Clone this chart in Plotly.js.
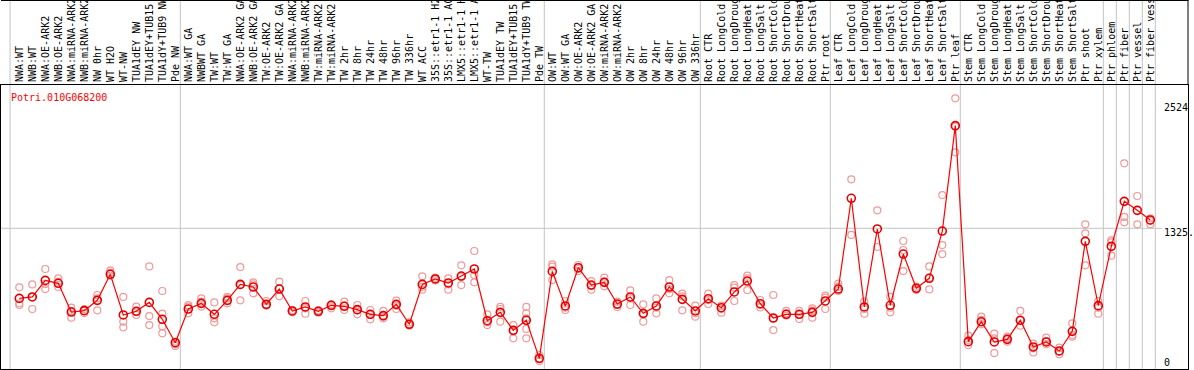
<!DOCTYPE html>
<html>
<head>
<meta charset="utf-8">
<script src="https://cdn.plot.ly/plotly-3.0.1.min.js"></script>
<style>
html,body{margin:0;padding:0;background:#fff;overflow:hidden;}
#chart{width:1194px;height:370px;}
</style>
</head>
<body>
<div id="chart"></div>
<script>
// ---- data ----
const geneId = "Potri.010G068200";

const samples = [
  "NWA:WT","NWB:WT","NWA:OE-ARK2","NWB:OE-ARK2","NWA:miRNA-ARK2","NWB:miRNA-ARK2","NW 0hr","WT H2O","WT-NW",
  "TUA1dEY NW","TUA1dEY+TUB15 NW","TUA1dY+TUB9 NW","Pde NW",
  "NWA:WT GA","NWBWT GA","TW:WT","TW:WT GA","NWA:OE-ARK2 GA","NWB:OE-ARK2 GA","TW:OE-ARK2","TW:OE-ARK2 GA",
  "NWA:miRNA-ARK2 GA","NWB:miRNA-ARK2 GA","TW:miRNA-ARK2","TW:miRNA-ARK2 GA","TW 2hr","TW 8hr","TW 24hr","TW 48hr",
  "TW 96hr","TW 336hr","WT ACC","35S::etr1-1 H2O","35S::etr1-1 ACC","LMX5::etr1-1 H2O","LMX5::etr1-1 ACC","WT-TW",
  "TUA1dEY TW","TUA1dEY+TUB15 TW","TUA1dY+TUB9 TW","Pde TW",
  "OW:WT","OW:WT GA","OW:OE-ARK2","OW:OE-ARK2 GA","OW:miRNA-ARK2","OW:miRNA-ARK2 GA","OW 2hr","OW 8hr","OW 24hr",
  "OW 48hr","OW 96hr","OW 336hr",
  "Root CTR","Root LongCold","Root LongDrought","Root LongHeat","Root LongSalt","Root ShortCold","Root ShortDrought",
  "Root ShortHeat","Root ShortSalt","Ptr root",
  "Leaf CTR","Leaf LongCold","Leaf LongDrought","Leaf LongHeat","Leaf LongSalt","Leaf ShortCold","Leaf ShortDrought",
  "Leaf ShortHeat","Leaf ShortSalt","Ptr leaf",
  "Stem CTR","Stem LongCold","Stem LongDrought","Stem LongHeat","Stem LongSalt","Stem ShortCold","Stem ShortDrought",
  "Stem ShortHeat","Stem ShortSalt","Ptr shoot","Ptr xylem",
  "Ptr phloem","Ptr fiber","Ptr vessel","Ptr fiber vessel"
];

// indices where a new sample group starts (separator lines)
const groupStarts = [0, 13, 41, 53, 63, 73, 84, 85, 86, 87, 88];

const meanExpr = [
  679,692,845,818,553,566,661,901,526,560,642,486,270,
  581,633,532,661,808,784,624,765,563,600,560,615,606,575,532,520,624,440,808,858,821,885,950,473,550,384,477,126,
  928,609,962,802,827,627,692,541,609,784,670,563,
  676,593,738,839,630,498,532,532,550,655,
  765,1602,600,1319,615,1088,772,864,1300,2272,
  280,464,277,301,477,231,277,194,375,1205,612,
  1159,1574,1491,1402
];

const rep1 = [
  781,808,950,864,593,581,710,938,692,603,974,747,280,
  618,679,642,692,968,827,655,833,572,655,569,624,649,618,572,563,658,458,882,870,864,984,1116,532,600,433,600,157,
  993,655,987,839,870,649,753,624,679,848,722,612,
  722,612,802,888,664,710,563,563,587,704,
  815,1777,649,1491,692,1208,787,974,1632,2524,
  335,510,354,326,563,261,317,224,449,1362,655,
  1214,1925,1623,1417
];
const rep2 = [
  633,692,812,833,563,563,679,916,464,556,516,538,255,
  603,649,495,679,802,808,618,772,556,587,556,606,612,569,526,510,612,440,787,858,808,879,895,458,581,378,541,120,
  972,593,950,796,833,618,679,532,593,765,698,541,
  664,581,778,864,618,495,541,526,569,686,
  787,1264,581,1153,593,1125,765,870,1171,2263,
  295,480,311,311,477,218,286,188,341,1279,593,
  1196,1430,1362,1393
];
const rep3 = [
  618,581,765,784,501,544,569,888,412,526,433,421,240,
  541,603,458,633,661,726,612,698,550,538,547,587,572,532,486,495,581,427,759,845,759,802,827,433,464,311,495,101,
  848,572,931,759,790,600,618,464,541,726,569,510,
  627,547,655,756,596,387,520,489,501,581,
  747,null,538,null,550,931,756,762,1088,2026,
  249,440,175,280,427,181,255,163,326,984,538,
  1073,1380,null,1362
];
// a few samples have extra replicates
const rep4 = samples.map(() => null);
rep4[11] = 357; rep4[39] = 397;
const rep5 = samples.map(() => null);
rep5[39] = 311;

const yLabels = ["2524", "1325.", "0"];

// ---- drawing ----
const xIdx = samples.map((_, i) => i);
const monoFont = "DejaVu Sans Mono, Liberation Mono, monospace";
const repStyle = {symbol: "circle-open", size: 7, color: "#ee9a9a", line: {width: 1.2, color: "#ee9a9a"}};

const traces = [];
[rep1, rep2, rep3, rep4, rep5].forEach(r => {
  traces.push({x: xIdx, y: r, type: "scatter", mode: "markers", marker: repStyle,
               hoverinfo: "skip", showlegend: false, cliponaxis: false});
});
traces.push({
  x: xIdx, y: meanExpr, type: "scatter", mode: "lines+markers",
  line: {color: "#ff0000", width: 1.2},
  marker: {symbol: "circle-open", size: 8, color: "#e00000", line: {width: 1.6, color: "#e00000"}},
  showlegend: false, cliponaxis: false
});

// plot area geometry (pixels)
const W = 1194, H = 370, L = 1, R = 1188, T = 85, B = 369;
const ph = B - T, pw = R - L;
const py = (yy) => (B - yy) / ph;   // page y -> paper y
const px = (xx) => (xx - L) / pw;   // page x -> paper x

const shapes = [];
groupStarts.forEach((g, k) => {
  const off = k === 0 ? -0.71 : -0.615;
  shapes.push({type: "line", xref: "x", yref: "paper", x0: g + off, x1: g + off,
               y0: 0, y1: py(0), line: {color: "#c4c4c4", width: 1}, layer: "below"});
});
shapes.push({type: "line", xref: "paper", yref: "y", x0: 0, x1: px(1162), y0: 1325.3, y1: 1325.3,
             line: {color: "#c4c4c4", width: 1}, layer: "below"});
shapes.push({type: "line", xref: "paper", yref: "paper", x0: 0, x1: px(R + 0.5), y0: py(0.5), y1: py(0.5),
             line: {color: "#000", width: 1}});
shapes.push({type: "line", xref: "paper", yref: "paper", x0: px(R), x1: px(R), y0: 1, y1: py(0),
             line: {color: "#000", width: 1}});

const annotations = [
  {text: geneId, xref: "paper", yref: "paper", x: px(9), y: py(97.5), xanchor: "left", yanchor: "middle",
   showarrow: false, font: {family: monoFont, size: 10, color: "#ff0000"}},
  {text: yLabels[0], xref: "paper", yref: "paper", x: px(1162), y: py(107.5), xanchor: "left", yanchor: "middle",
   showarrow: false, font: {family: monoFont, size: 10, color: "#000"}},
  {text: yLabels[1], xref: "paper", yref: "paper", x: px(1162), y: py(232.5), xanchor: "left", yanchor: "middle",
   showarrow: false, font: {family: monoFont, size: 10, color: "#000"}},
  {text: yLabels[2], xref: "paper", yref: "paper", x: px(1162), y: py(362), xanchor: "left", yanchor: "middle",
   showarrow: false, font: {family: monoFont, size: 10, color: "#000"}}
];

const layout = {
  width: W, height: H,
  margin: {l: L, r: W - R, t: T, b: H - B, pad: 0},
  paper_bgcolor: "#fff", plot_bgcolor: "#fff",
  showlegend: false,
  xaxis: {
    side: "top", range: [(L - 19.3) / 13, (R - 19.3) / 13],
    tickmode: "array", tickvals: xIdx, ticktext: samples, tickangle: -90,
    tickfont: {family: monoFont, size: 10, color: "#000"},
    ticks: "", showgrid: false, zeroline: false,
    showline: true, mirror: true, linecolor: "#000", linewidth: 1, automargin: false
  },
  yaxis: {
    range: [27.7, 2646.9], showticklabels: false, ticks: "", showgrid: false, zeroline: false,
    showline: true, mirror: true, linecolor: "#000", linewidth: 1, automargin: false
  },
  shapes: shapes,
  annotations: annotations,
  hovermode: false
};

Plotly.newPlot("chart", traces, layout, {staticPlot: true, displayModeBar: false});
</script>
</body>
</html>
